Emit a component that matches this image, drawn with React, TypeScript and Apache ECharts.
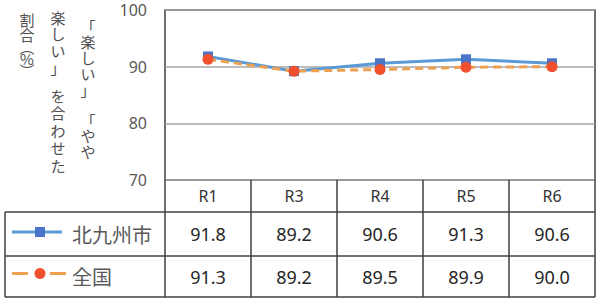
import React, { useEffect, useRef } from "react";
import * as echarts from "echarts";

const categories = ["R1", "R3", "R4", "R5", "R6"];
const seriesNames = ["北九州市", "全国"];
const kitakyushu = [91.8, 89.2, 90.6, 91.3, 90.6];
const national = [91.3, 89.2, 89.5, 89.9, 90.0];
const yTicks = [70, 80, 90, 100];
// vertical axis title, read right-to-left column by column
const titleColumns = [
  ["「楽しい」", "「やや"],
  ["楽しい」", "を合わせた"],
  ["割合", "︵%︶"],
];

const W = 602;
const H = 299;
const PL = 165, PR = 595, PT = 10, PB = 180;
const ROW1 = 212, ROW2 = 256, TB = 297;
const TL = 5;
const textGray = "#595959";
const border = "#404040";
const blueLine = "#5B9BD5";
const blueMark = "#4A74C6";
const orangeLine = "#EDA050";
const orangeMark = "#F0502E";
const numFont = "'Noto Sans', 'Open Sans', sans-serif";
const jpFont = "'Noto Sans CJK JP', sans-serif";

export default function App() {
  const ref = useRef<HTMLDivElement>(null);
  useEffect(() => {
    if (!ref.current) return;
    const chart = echarts.init(ref.current, undefined, { renderer: "svg" });
    const base: any = {
      animation: false,
      backgroundColor: "#ffffff",
      grid: {
        left: PL, top: PT, width: PR - PL, height: PB - PT,
        show: true, borderColor: border, borderWidth: 1.5, containLabel: false,
      },
      xAxis: {
        type: "category",
        data: categories,
        boundaryGap: true,
        axisLine: { show: false },
        axisTick: { show: false },
        axisLabel: {
          margin: 16, verticalAlign: "middle", fontSize: 16,
          color: "#333333", fontFamily: numFont,
        },
      },
      yAxis: {
        type: "value",
        min: yTicks[0],
        max: yTicks[yTicks.length - 1],
        interval: 10,
        axisLine: { show: false },
        axisTick: { show: false },
        axisLabel: { margin: 18, fontSize: 16, color: textGray, fontFamily: numFont },
        splitLine: { lineStyle: { color: "#A6A6A6", width: 1.5 } },
      },
      series: [
        {
          name: seriesNames[0], type: "line", data: kitakyushu,
          symbol: "rect", symbolSize: 10,
          itemStyle: { color: blueMark },
          lineStyle: { color: blueLine, width: 3 },
          z: 2,
        },
        {
          name: seriesNames[1], type: "line", data: national,
          symbol: "circle", symbolSize: 11,
          itemStyle: { color: orangeMark },
          lineStyle: { color: orangeLine, width: 3, type: [8, 5] },
          z: 3,
        },
      ],
    };
    chart.setOption(base);

    const xs = categories.map((c) => chart.convertToPixel({ xAxisIndex: 0 }, c) as number);
    const colW = (PR - PL) / categories.length;
    const g: any[] = [];
    const ln = (x1: number, y1: number, x2: number, y2: number) =>
      g.push({ type: "line", shape: { x1, y1, x2, y2 }, style: { stroke: border, lineWidth: 1.5 }, z: 10 });
    // table lines
    ln(PL, PB, PL, TB);
    ln(PR, PB, PR, TB);
    for (let i = 1; i < categories.length; i++) ln(PL + i * colW, PB, PL + i * colW, TB);
    ln(TL, ROW1, PR, ROW1);
    ln(TL, ROW2, PR, ROW2);
    ln(TL, TB, PR, TB);
    ln(TL, ROW1, TL, TB);
    // data values
    const rows = [kitakyushu, national];
    const rowCenters = [(ROW1 + ROW2) / 2, (ROW2 + TB) / 2];
    rows.forEach((vals, r) => {
      vals.forEach((v, i) => {
        g.push({
          type: "text", x: xs[i], y: rowCenters[r], z: 10,
          style: {
            text: v.toFixed(1), align: "center", verticalAlign: "middle",
            fontSize: 18, fill: "#262626", fontFamily: numFont,
          },
        });
      });
    });
    // legend keys
    const yc0 = rowCenters[0] - 2;
    g.push({ type: "line", shape: { x1: 12, y1: yc0, x2: 62, y2: yc0 }, style: { stroke: blueLine, lineWidth: 3 }, z: 10 });
    g.push({ type: "rect", shape: { x: 35, y: yc0 - 5, width: 10, height: 10 }, style: { fill: blueMark }, z: 11 });
    const yc1 = rowCenters[1] - 3;
    g.push({ type: "line", shape: { x1: 12, y1: yc1, x2: 28, y2: yc1 }, style: { stroke: orangeLine, lineWidth: 3 }, z: 10 });
    g.push({ type: "line", shape: { x1: 50, y1: yc1, x2: 66, y2: yc1 }, style: { stroke: orangeLine, lineWidth: 3 }, z: 10 });
    g.push({ type: "circle", shape: { cx: 40, cy: yc1, r: 5.5 }, style: { fill: orangeMark }, z: 11 });
    seriesNames.forEach((n, r) => {
      g.push({
        type: "text", x: 72, y: rowCenters[r], z: 10,
        style: {
          text: n, align: "left", verticalAlign: "middle",
          fontSize: 20, fill: textGray, fontFamily: jpFont,
        },
      });
    });
    // vertical title columns: one text per character
    const colX = [88, 58, 27];
    const segStart = [[26, 120], [17, 95], [19, 46]];
    const segPitch = [[15.8, 15.8], [16.7, 17.5], [15, 12]];
    titleColumns.forEach((segs, c) => {
      segs.forEach((s, k) => {
        Array.from(s).forEach((ch, j) => {
          g.push({
            type: "text", x: colX[c], y: segStart[c][k] + j * segPitch[c][k],
            style: {
              text: ch, align: "center", verticalAlign: "middle",
              fontSize: 15, fill: "#505050", fontFamily: jpFont,
            },
          });
        });
      });
    });
    chart.setOption({ graphic: g });
    return () => chart.dispose();
  }, []);
  return <div ref={ref} style={{ width: W, height: H, position: "absolute", left: 0, top: 0 }} />;
}
